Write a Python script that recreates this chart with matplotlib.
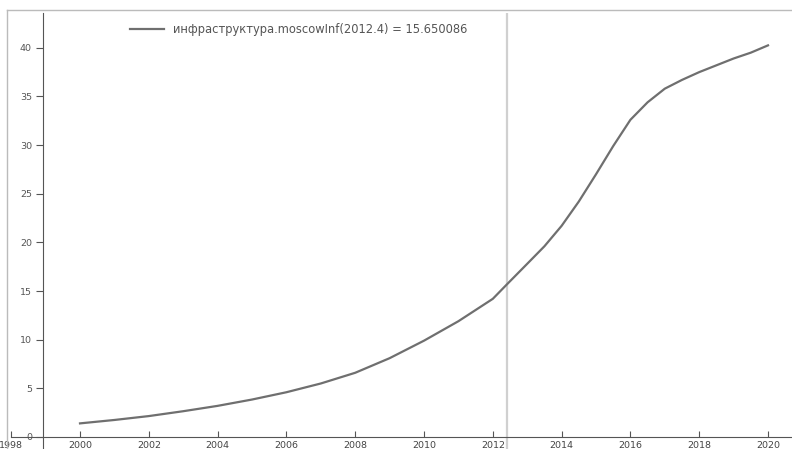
import numpy as np
import matplotlib.pyplot as plt
from matplotlib.lines import Line2D

# values
years = [2000, 2001, 2002, 2003, 2004, 2005, 2006, 2007, 2008, 2009, 2010,
         2011, 2012, 2012.4, 2013, 2013.5, 2014, 2014.5, 2015, 2015.5, 2016,
         2016.5, 2017, 2017.5, 2018, 2018.5, 2019, 2019.5, 2020]
moscow_inf = [1.4, 1.75, 2.15, 2.65, 3.2, 3.85, 4.6, 5.5, 6.6, 8.1, 9.9,
              11.9, 14.2, 15.65, 17.8, 19.6, 21.7, 24.2, 27.0, 29.9, 32.6,
              34.4, 35.8, 36.7, 37.5, 38.2, 38.9, 39.5, 40.25]
x_ticks = [1998, 2000, 2002, 2004, 2006, 2008, 2010, 2012, 2014, 2016, 2018, 2020]
y_ticks = [0, 5, 10, 15, 20, 25, 30, 35, 40]
cursor_year = 2012.4
legend_label = 'инфраструктура.moscowInf(2012.4) = 15.650086'

W, H = 792, 449
fig = plt.figure(figsize=(W / 100, H / 100), dpi=100)
ax = fig.add_axes([0, 0, 1, 1 - 13 / H])

px_year = 34.4
px_unit = 9.73
ax.set_xlim(2000 - 80 / px_year, 2000 + (W - 80) / px_year)
ax.set_ylim(-(H - 437) / px_unit, (437 - 13) / px_unit)

ax.axvline(cursor_year, color='#d0d0d0', lw=1.6, zorder=1)
ax.plot(years, moscow_inf, color='#6f6f6f', lw=1.6, label=legend_label, zorder=3)

for s in ['top', 'right']:
    ax.spines[s].set_visible(False)
ax.spines['left'].set_position(('data', 2000 - 37 / px_year))
ax.spines['bottom'].set_position(('data', 0))
ax.spines['bottom'].set_bounds(1998, ax.get_xlim()[1])
ax.spines['left'].set_color('#555555')
ax.spines['bottom'].set_color('#555555')

ax.set_xticks(x_ticks)
ax.set_yticks(y_ticks)
ax.tick_params(axis='x', direction='in', length=4, pad=3, labelsize=6.8,
               colors='#555555', labelcolor='#444444')
ax.tick_params(axis='y', direction='out', length=5, pad=3, labelsize=6.8,
               colors='#555555', labelcolor='#555555')
ax.patch.set_visible(False)

leg = ax.legend(loc='upper left', bbox_to_anchor=(125 / W, 1 - 18 / H),
                bbox_transform=fig.transFigure, frameon=False, fontsize=8.3,
                handlelength=3.0, handletextpad=0.8, borderaxespad=0)
for t in leg.get_texts():
    t.set_color('#555555')

# outer frame
fig.add_artist(Line2D([7 / W, 1], [1 - 10 / H, 1 - 10 / H], transform=fig.transFigure,
                      color='#bbbbbb', lw=1))
fig.add_artist(Line2D([7 / W, 7 / W], [0, 1 - 10 / H], transform=fig.transFigure,
                      color='#bbbbbb', lw=1))

plt.savefig('out.png', dpi=100)
